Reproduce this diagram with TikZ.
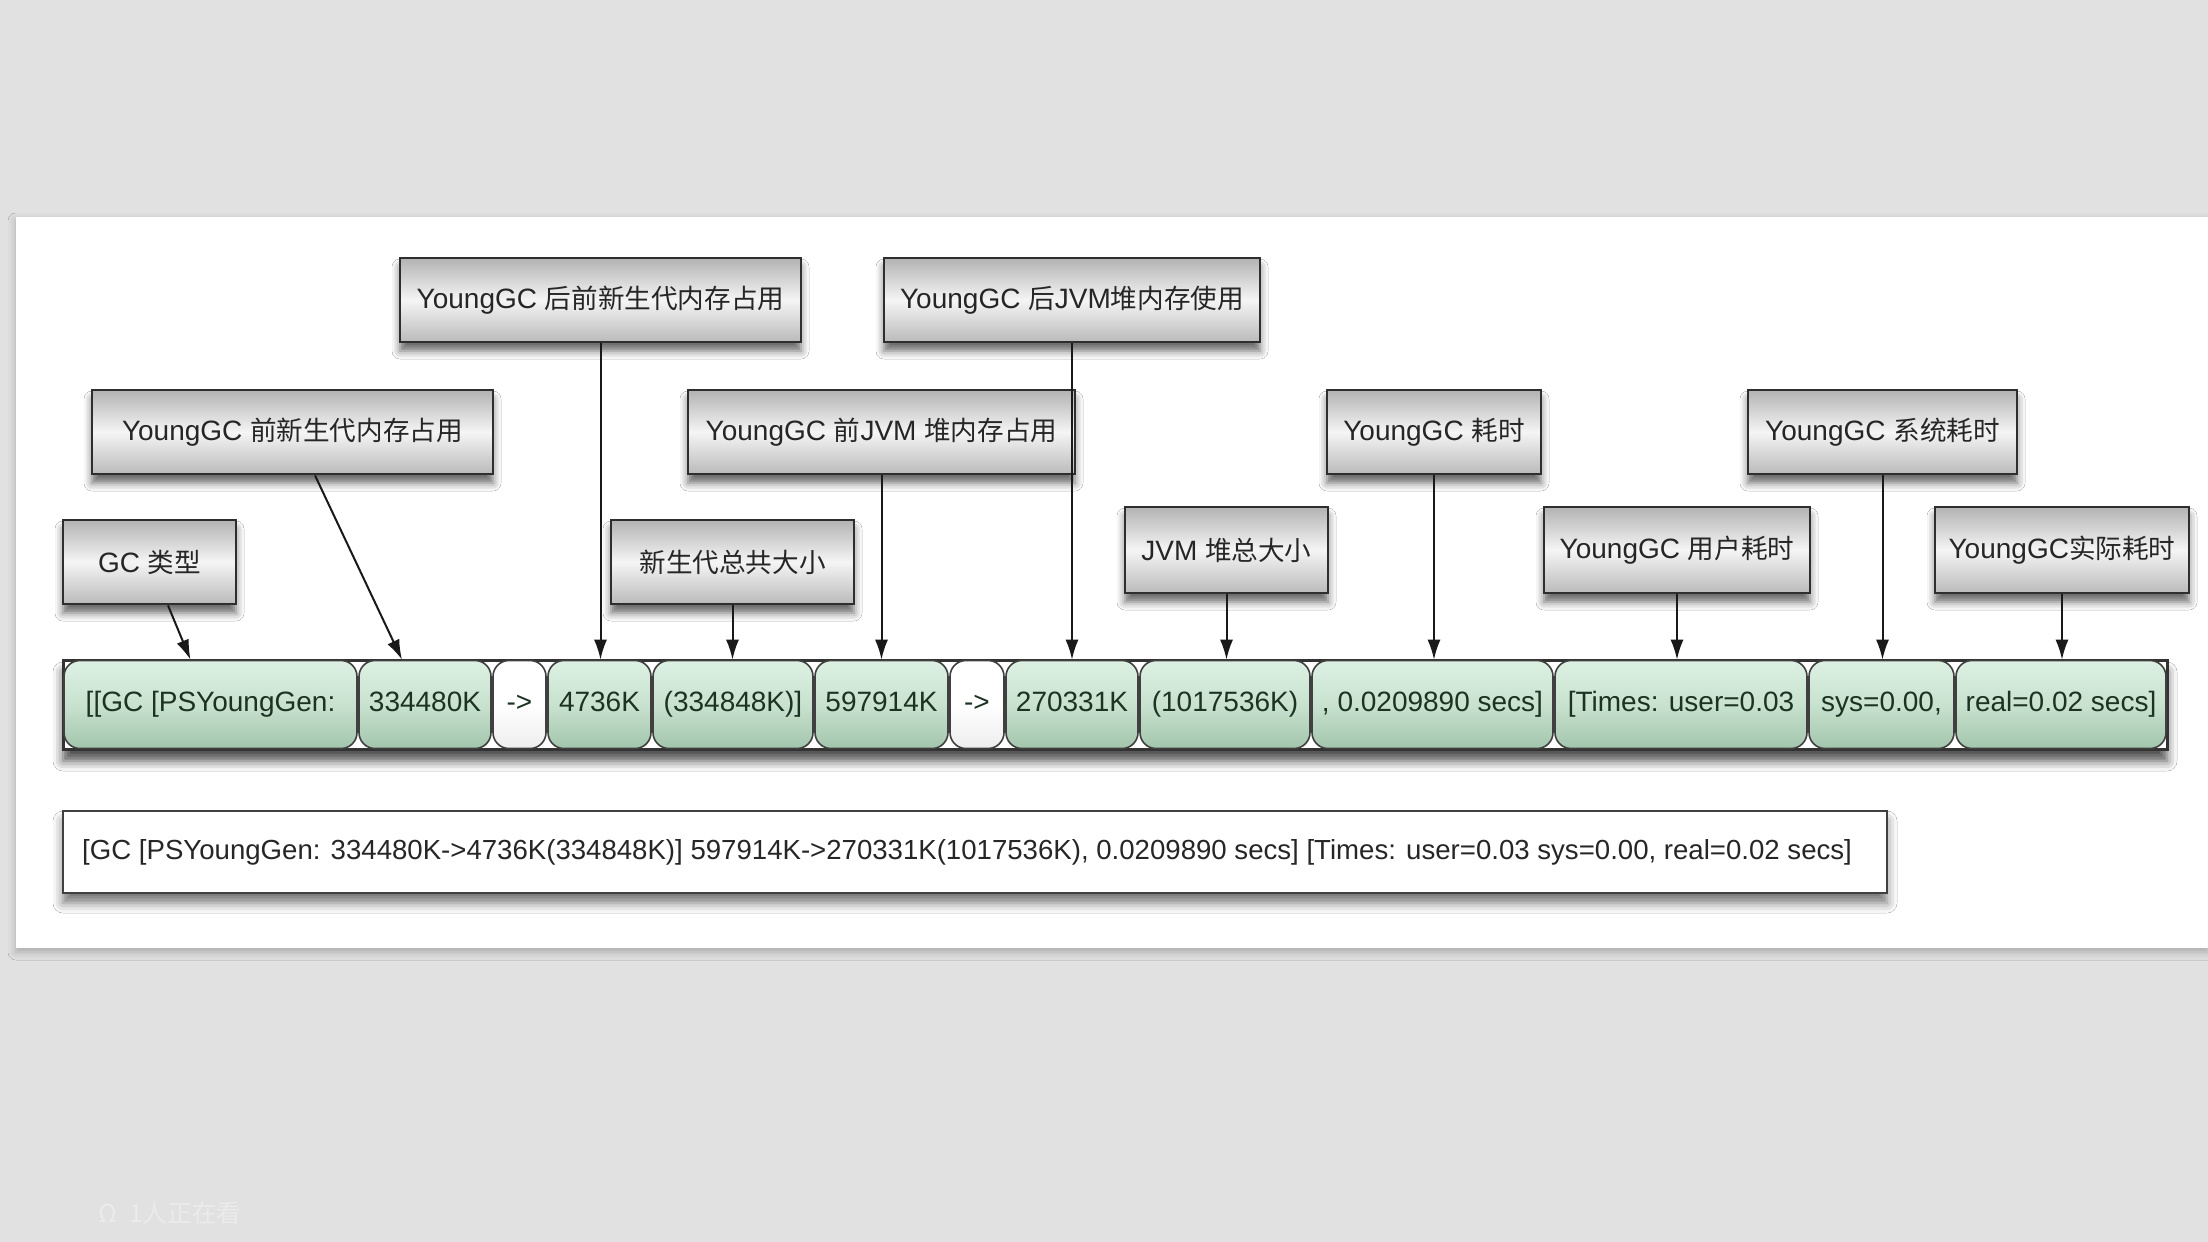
\documentclass[tikz,border=0pt]{standalone}
\usepackage{fontspec}
\setmainfont{Liberation Sans}
\newfontfamily\cjk[Scale=0.95]{Noto Sans CJK SC}
\usetikzlibrary{shadows.blur,arrows.meta,calc}
\definecolor{bgc}{HTML}{E1E1E1}
\definecolor{wm}{HTML}{EBEBEB}
\definecolor{gtop}{HTML}{DDF1E3}
\definecolor{gmid}{HTML}{C8E2CF}
\definecolor{gbot}{HTML}{A3C5AC}
\definecolor{segtext}{HTML}{1C3322}
\definecolor{lbltext}{HTML}{262626}
\tikzset{
  lbl/.style={draw=black!82, line width=1.4pt, rectangle,
    top color=black!30, bottom color=black!27, middle color=black!4,
    text=lbltext, font=\fontsize{14}{16}\selectfont, inner sep=0pt,
    blur shadow={shadow xshift=0pt, shadow yshift=-4.5pt, shadow blur radius=4pt, shadow opacity=60}},
  seg/.style={draw=black!75, line width=0.8pt, rectangle, rounded corners=8pt,
    top color=gtop, bottom color=gbot, middle color=gmid, text=segtext,
    font=\fontsize{14}{16}\selectfont, inner sep=0pt, minimum height=44pt,
    text height=10pt, text depth=3pt},
  wseg/.style={seg, top color=white, bottom color=white!93!black, middle color=white},
  arr/.style={line width=1pt, black!90, -{Latex[length=10pt,width=6.5pt]}},
}
\begin{document}
\begin{tikzpicture}[x=0.5pt,y=-0.5pt]
\useasboundingbox (0,0) rectangle (2208,1242);
\fill[bgc] (0,0) rectangle (2208,1242);
% white panel
\fill[white, blur shadow={shadow xshift=0pt, shadow yshift=-2pt, shadow blur radius=4pt, shadow opacity=25}] (16,217) rectangle (2208,948);
% label boxes
\node[lbl, minimum width=200.5pt, minimum height=42pt] (A) at (600.5,300) {YoungGC {\cjk 后前新生代内存占用}};
\node[lbl, minimum width=188pt, minimum height=42pt] (B) at (1072,300) {YoungGC {\cjk 后}JVM{\cjk 堆内存使用}};
\node[lbl, minimum width=200.5pt, minimum height=42pt] (C) at (292.5,432) {YoungGC {\cjk 前新生代内存占用}};
\node[lbl, minimum width=193.5pt, minimum height=42pt] (D) at (881.5,432) {YoungGC {\cjk 前}JVM {\cjk 堆内存占用}};
\node[lbl, minimum width=107pt, minimum height=42pt] (E) at (1434,432) {YoungGC {\cjk 耗时}};
\node[lbl, minimum width=134.5pt, minimum height=42pt] (F) at (1882.5,432) {YoungGC {\cjk 系统耗时}};
\node[lbl, minimum width=86.5pt, minimum height=42pt] (G) at (149.5,562) {GC {\cjk 类型}};
\node[lbl, minimum width=121.5pt, minimum height=42pt] (H) at (732.5,562) {\cjk 新生代总共大小};
\node[lbl, minimum width=101.5pt, minimum height=43pt] (I) at (1226.5,550) {JVM {\cjk 堆总大小}};
\node[lbl, minimum width=133pt, minimum height=43pt] (J) at (1677,550) {YoungGC {\cjk 用户耗时}};
\node[lbl, minimum width=127pt, minimum height=43pt] (K) at (2062,550) {YoungGC{\cjk 实际耗时}};
% bar
\node[draw=black!80, line width=1.5pt, fill=white, minimum width=1052pt, minimum height=44.5pt, inner sep=0pt,
  blur shadow={shadow xshift=0pt, shadow yshift=-6pt, shadow blur radius=5pt, shadow opacity=70}] (bar) at (1115,704.5) {};
\node[seg,  minimum width=146.5pt] (s1)  at (210.5,704.5) {[[GC [PSYoungGen:};
\node[seg,  minimum width=66pt]    (s2)  at (425,704.5) {334480K};
\node[wseg, minimum width=26.5pt]  (s3)  at (519.5,704.5) {->};
\node[seg,  minimum width=51.5pt]  (s4)  at (599.5,704.5) {4736K};
\node[seg,  minimum width=80pt]    (s5)  at (733,704.5) {(334848K)]};
\node[seg,  minimum width=66.5pt]  (s6)  at (881.5,704.5) {597914K};
\node[wseg, minimum width=27pt]    (s7)  at (977,704.5) {->};
\node[seg,  minimum width=66pt]    (s8)  at (1072,704.5) {270331K};
\node[seg,  minimum width=85pt]    (s9)  at (1225,704.5) {(1017536K)};
\node[seg,  minimum width=120.5pt] (s10) at (1432.5,704.5) {, 0.0209890 secs]};
\node[seg,  minimum width=126pt]   (s11) at (1681,704.5) {[Times: user=0.03};
\node[seg,  minimum width=72.5pt]  (s12) at (1881.5,704.5) {sys=0.00,};
\node[seg,  minimum width=105pt]   (s13) at (2061,704.5) {real=0.02 secs]};
% arrows
\draw[arr] ([xshift=9.25pt]G.south) -- ([xshift=-10pt]s1.north);
\draw[arr] ([xshift=11.25pt]C.south) -- ([xshift=-11.5pt]s2.north);
\draw[arr] (A.south) -- (A.south |- s4.north);
\draw[arr] (H.south) -- (H.south |- s5.north);
\draw[arr] (D.south) -- (D.south |- s6.north);
\draw[arr] (B.south) -- (B.south |- s8.north);
\draw[arr] (I.south) -- (I.south |- s9.north);
\draw[arr] (E.south) -- (E.south |- s10.north);
\draw[arr] (J.south) -- (J.south |- s11.north);
\draw[arr] (F.south) -- (F.south |- s12.north);
\draw[arr] (K.south) -- (K.south |- s13.north);
% full log line
\node[draw=black!75, line width=1.2pt, fill=white, minimum width=912pt, minimum height=41pt, inner sep=0pt,
  blur shadow={shadow xshift=0pt, shadow yshift=-5pt, shadow blur radius=5pt, shadow opacity=55}] (log) at (975,852) {};
\node[anchor=west, text=lbltext, font=\fontsize{13.8}{16}\selectfont, inner sep=0pt] (logtext) at ([xshift=10pt]log.west)
  {[GC [PSYoungGen: 334480K->4736K(334848K)] 597914K->270331K(1017536K), 0.0209890 secs] [Times: user=0.03 sys=0.00, real=0.02 secs]};
% watermark
\node[text=wm, font=\fontsize{13}{15}\selectfont, anchor=west, inner sep=0pt] (wmark) at (98,1213) {\cjk Ω\hspace{6pt}1人正在看};
\end{tikzpicture}
\end{document}
